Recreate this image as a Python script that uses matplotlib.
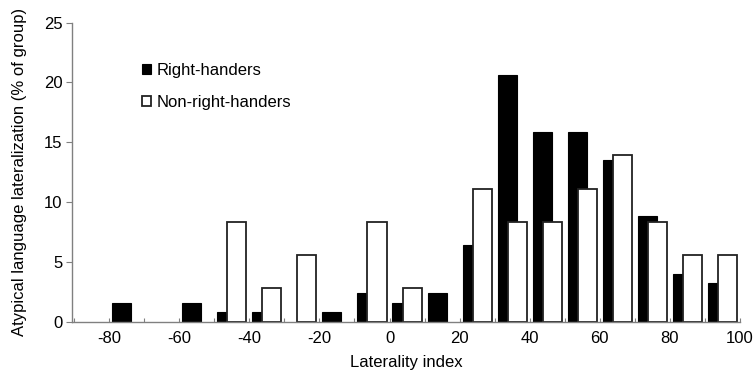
import numpy as np
import matplotlib.pyplot as plt

plt.rcParams['font.family'] = ['Liberation Sans', 'DejaVu Sans']

# laterality index bins (lower edges, width 10)
bin_lower = [-90, -80, -70, -60, -50, -40, -30, -20, -10, 0,
             10, 20, 30, 40, 50, 60, 70, 80, 90]
right_handers = [0, 1.6, 0, 1.6, 0.8, 0.8, 0, 0.8, 2.4, 1.6,
                 2.4, 6.4, 20.6, 15.9, 15.9, 13.5, 8.8, 4.0, 3.2]
non_right_handers = [0, 0, 0, 0, 8.33, 2.78, 5.56, 0, 8.33, 2.78,
                     0, 11.1, 8.33, 8.33, 11.1, 13.9, 8.33, 5.56, 5.56]

centers = np.array(bin_lower) + 5
rh = np.array(right_handers)
nrh = np.array(non_right_handers)
bar_w = 5.43
shift = 1.43
fs = 12

fig = plt.figure(figsize=(7.55, 3.78), dpi=100)
ax = fig.add_axes([72.3 / 755, 56.3 / 378, (740 - 72.3) / 755, (321.7 - 22.7) / 378])

m = rh > 0
ax.bar(centers[m] - shift, rh[m], width=bar_w, color='black',
       edgecolor='black', linewidth=0.8, label='Right-handers')
m = nrh > 0
ax.bar(centers[m] + shift, nrh[m], width=bar_w, color='white',
       edgecolor='#222222', linewidth=1.3, label='Non-right-handers')

ax.set_xlim(-90.5, 100)
ax.set_ylim(0, 25)
ax.set_yticks(np.arange(0, 26, 5))
ticks = np.arange(-90, 101, 10)
ax.set_xticks(ticks)
ax.set_xticklabels([str(t) if t % 20 == 0 else '' for t in ticks])

for s in ['top', 'right']:
    ax.spines[s].set_visible(False)
for s in ['left', 'bottom']:
    ax.spines[s].set_color('#808080')
    ax.spines[s].set_linewidth(1.0)
ax.tick_params(axis='x', direction='in', length=3, color='#808080',
               labelsize=fs, pad=7)
ax.tick_params(axis='y', direction='out', length=4, color='#808080',
               labelsize=fs, pad=3)

ax.set_xlabel('Laterality index', fontsize=fs, labelpad=6)
ax.set_ylabel('Atypical language lateralization (% of group)', fontsize=fs,
              labelpad=12)

ax.legend(loc='upper left', bbox_to_anchor=(0.082, 0.915), frameon=False,
          fontsize=fs, handlelength=0.55, handleheight=0.55, handletextpad=0.3,
          labelspacing=1.0)

fig.savefig('out.png', dpi=100)
